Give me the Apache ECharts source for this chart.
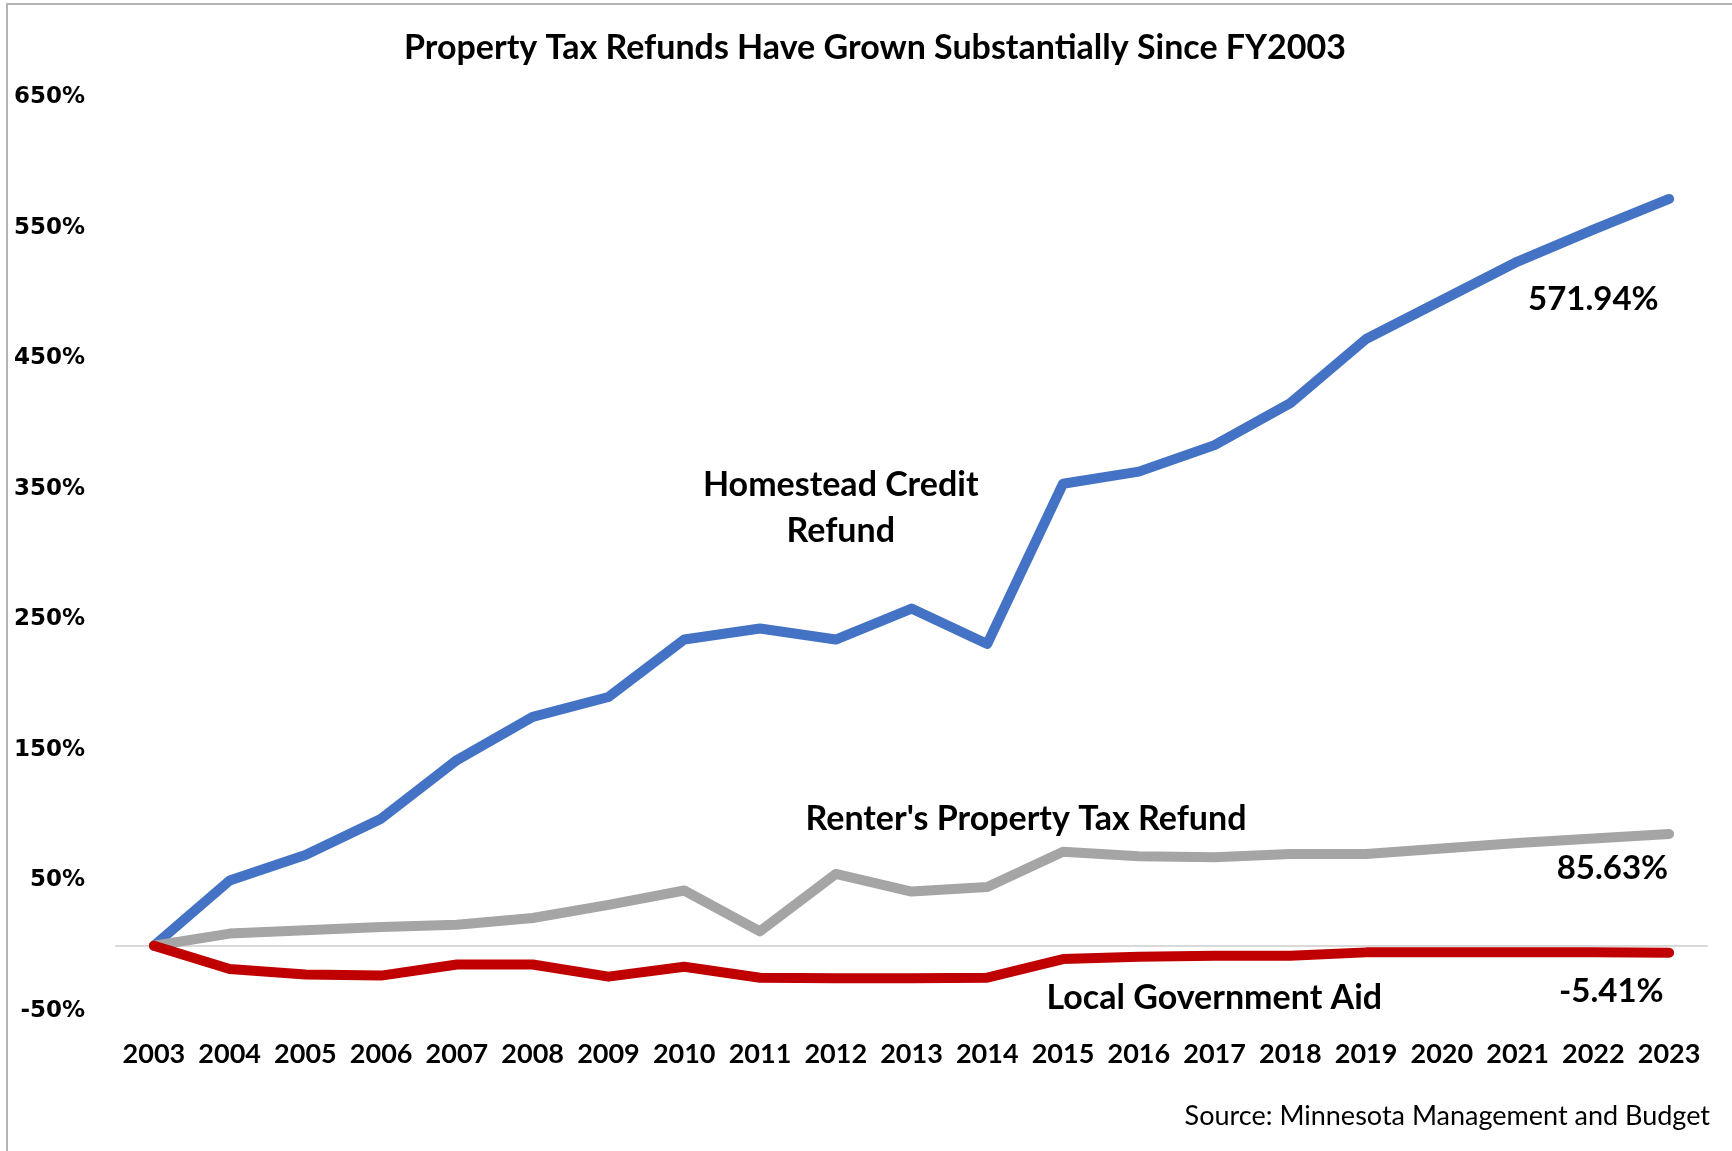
<!DOCTYPE html>
<html>
<head>
<meta charset="utf-8">
<title>Property Tax Refunds</title>
<script src="https://cdn.jsdelivr.net/npm/echarts@6/dist/echarts.min.js"></script>
<style>
    html, body {margin: 0; padding: 0; background: #fff;}
    #chart {width: 1732px; height: 1151px;}
</style>
</head>
<body>
<div id="chart"></div>
<script>
// values, % change since FY2003
let years = ['2003', '2004', '2005', '2006', '2007', '2008', '2009', '2010', '2011', '2012', '2013',
    '2014', '2015', '2016', '2017', '2018', '2019', '2020', '2021', '2022', '2023']

let homestead = [0, 50, 69.4, 97.3, 142.2, 175.2, 190.5, 234.5, 242.9, 234.5, 258.2,
    231.1, 353.8, 363.1, 383.4, 415.6, 464.7, 494.3, 524, 548.5, 571.94]

let renter = [0, 9.3, 11.9, 14.4, 16.1, 21.2, 31.3, 42.3, 11, 55, 41.5,
    44.9, 71.9, 68.6, 67.7, 70.3, 70.3, 74.5, 78.7, 82.1, 85.63]

let lga = [0, -17.8, -22, -22.9, -14.4, -14.4, -23.7, -16.1, -24.5, -25, -25,
    -24.5, -10.2, -8.5, -7.6, -7.6, -5.1, -5.1, -5.1, -5.1, -5.41]

let yTicks = {min: -50, max: 650, step: 100}

let txtFont = 'Lato, "Open Sans", sans-serif'

function lineSeries(name, data, color) {
    return {
        name: name,
        type: 'line',
        data: data,
        symbol: 'none',
        silent: true,
        lineStyle: {color: color, width: 10, cap: 'round', join: 'round'},
    }
}

// text anchored to data coords, nudged by a pixel offset
function note(text, year, value, size, offset) {
    return {
        type: 'scatter',
        data: [[year, value]],
        symbolSize: 0,
        silent: true,
        itemStyle: {opacity: 1},
        label: {
            show: true,
            position: 'inside',
            offset: offset || [0, 0],
            formatter: text,
            color: '#000',
            opacity: 1,
            fontFamily: txtFont,
            fontWeight: 'bold',
            fontSize: size,
            lineHeight: 46,
            align: 'center',
            verticalAlign: 'middle',
        },
        z: 5,
    }
}

let chart = echarts.init(document.getElementById('chart'), null, {renderer: 'canvas'})

chart.setOption({
    animation: false,
    backgroundColor: '#fff',
    title: {
        text: 'Property Tax Refunds Have Grown Substantially Since FY2003',
        left: 870,
        textAlign: 'center',
        top: 26,
        textStyle: {fontFamily: txtFont, fontWeight: 'bold', fontSize: 34, color: '#000'},
    },
    graphic: [
        {
            type: 'rect',
            shape: {x: 7, y: 4, width: 1740, height: 1160},
            style: {fill: null, stroke: '#b4b4b4', lineWidth: 2},
            silent: true,
        },
        {
            type: 'text',
            right: 22,
            top: 1103,
            style: {
                text: 'Source: Minnesota Management and Budget',
                fontFamily: txtFont,
                fontSize: 27,
                fill: '#000',
            },
        },
    ],
    grid: {left: 116, right: 25, top: 97, bottom: 140, containLabel: false},
    xAxis: [
        {
            type: 'category',
            data: years,
            boundaryGap: true,
            axisLine: {show: true, onZero: true, lineStyle: {color: '#d9d9d9', width: 2}},
            axisTick: {show: false},
            axisLabel: {show: false},
        },
        {
            type: 'category',
            data: years,
            position: 'bottom',
            boundaryGap: true,
            axisLine: {show: false, onZero: false},
            axisTick: {show: false},
            axisLabel: {
                color: '#000',
                fontFamily: txtFont,
                fontWeight: 'bold',
                fontSize: 27,
                margin: 30,
                interval: 0,
            },
        },
    ],
    yAxis: {
        type: 'value',
        min: yTicks.min,
        max: yTicks.max,
        interval: yTicks.step,
        splitLine: {show: false},
        axisLine: {show: false},
        axisTick: {show: false},
        axisLabel: {
            formatter: (v) => v + '%',
            color: '#000',
            fontFamily: '"DejaVu Sans", Verdana, sans-serif',
            fontWeight: 'bold',
            fontSize: 23,
            margin: 31,
        },
    },
    series: [
        lineSeries('Homestead Credit Refund', homestead, '#4472c4'),
        lineSeries("Renter's Property Tax Refund", renter, '#a5a5a5'),
        lineSeries('Local Government Aid', lga, '#c00000'),
        note('Homestead Credit\nRefund', '2012', 335, 34, [5, 0]),
        note("Renter's Property Tax Refund", '2015', 97, 34, [-37, 0]),
        note('Local Government Aid', '2018', -40, 34, [-76, 0]),
        note('571.94%', '2022', 495, 33, [0, 0]),
        note('85.63%', '2022', 59, 33, [19, 0]),
        note('-5.41%', '2022', -35, 33, [18, 0]),
    ],
})
</script>
</body>
</html>
